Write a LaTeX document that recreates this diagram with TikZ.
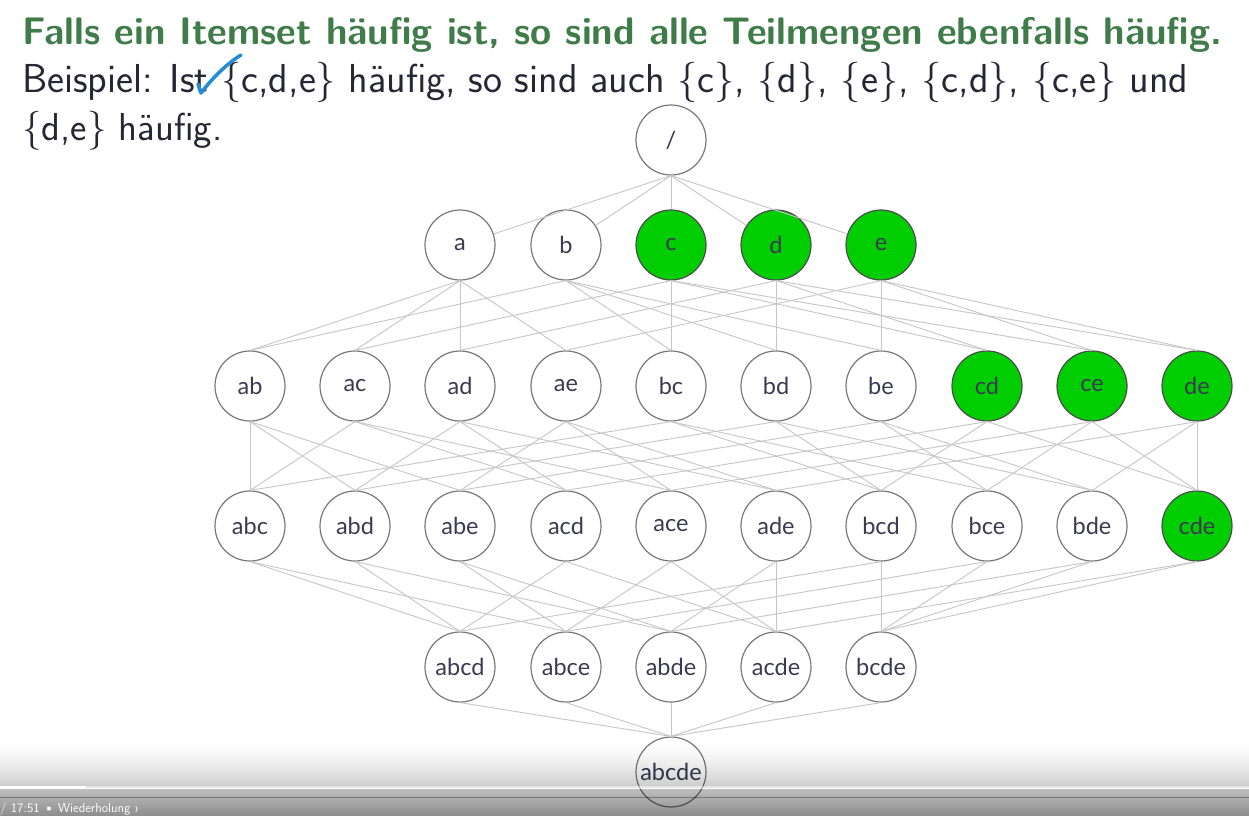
\documentclass[tikz,border=0pt]{standalone}
\usepackage{fontspec}
\newfontfamily\labelfont{Lato}

\definecolor{titlegreen}{RGB}{64,124,74}
\definecolor{bodytext}{RGB}{38,38,52}
\definecolor{setgreen}{RGB}{0,206,0}
\definecolor{labeltext}{RGB}{58,58,82}
\definecolor{circleedge}{RGB}{120,120,120}
\definecolor{edgegray}{RGB}{198,198,198}
\definecolor{penblue}{RGB}{35,140,210}

\tikzset{
  itemset/.style={circle, draw=circleedge, line width=1.2pt, fill=white,
    minimum size=70pt, inner sep=0pt, text=labeltext,
    font=\labelfont\fontsize{23.5}{23.5}\selectfont},
  frequent/.style={itemset, fill=setgreen, draw=black!70},
  lattice/.style={draw=edgegray, line width=0.9pt},
  headline/.style={anchor=base west, inner sep=0pt, text=titlegreen,
    font=\sffamily\bfseries\fontsize{38}{46}\selectfont},
  bodyline/.style={anchor=base west, inner sep=0pt, text=bodytext,
    font=\sffamily\fontsize{38}{46}\selectfont},
}

\begin{document}
\begin{tikzpicture}[x=1pt, y=-1pt]
\useasboundingbox (0,0) rectangle (1249,816);
\fill[white] (0,0) rectangle (1249,816);

% statement and example
\node[headline] (title) at (22,45)
  {\resizebox{1200pt}{!}{Falls ein Itemset häufig ist, so sind alle Teilmengen ebenfalls häufig.}};
\node[bodyline] (ex1) at (22,92)
  {\resizebox{1166pt}{!}{Beispiel: Ist \{c,d,e\} häufig, so sind auch \{c\}, \{d\}, \{e\}, \{c,d\}, \{c,e\} und}};
\node[bodyline] (ex2) at (22,140)
  {\resizebox{200pt}{!}{\{d,e\} häufig.}};

% itemset lattice: one row per itemset size
\node[itemset] (root) at (671,140) {/};

\foreach \n/\x in {a/460, b/566}
  \node[itemset] (\n) at (\x,245) {\n};
\foreach \n/\x in {c/671, d/776, e/881}
  \node[frequent] (\n) at (\x,245) {\n};

\foreach \n/\x in {ab/250, ac/355, ad/460, ae/566, bc/671, bd/776, be/881}
  \node[itemset] (\n) at (\x,386) {\n};
\foreach \n/\x in {cd/987, ce/1092, de/1197}
  \node[frequent] (\n) at (\x,386) {\n};

\foreach \n/\x in {abc/250, abd/355, abe/460, acd/566, ace/671, ade/776, bcd/881, bce/987, bde/1092}
  \node[itemset] (\n) at (\x,526) {\n};
\node[frequent] (cde) at (1197,526) {cde};

\foreach \n/\x in {abcd/460, abce/566, abde/671, acde/776, bcde/881}
  \node[itemset] (\n) at (\x,667) {\n};

\node[itemset] (abcde) at (671,772) {abcde};

% subset relations between neighbouring rows
\foreach \s in {a,b,c,d,e}
  \draw[lattice] (root.south) -- (\s);

\foreach \s/\sups in {a/{ab,ac,ad,ae}, b/{ab,bc,bd,be}, c/{ac,bc,cd,ce},
                      d/{ad,bd,cd,de}, e/{ae,be,ce,de}}
  \foreach \t in \sups
    \draw[lattice] (\s.south) -- (\t.north);

\foreach \s/\sups in {ab/{abc,abd,abe}, ac/{abc,acd,ace}, ad/{abd,acd,ade},
                      ae/{abe,ace,ade}, bc/{abc,bcd,bce}, bd/{abd,bcd,bde},
                      be/{abe,bce,bde}, cd/{acd,bcd,cde}, ce/{ace,bce,cde},
                      de/{ade,bde,cde}}
  \foreach \t in \sups
    \draw[lattice] (\s.south) -- (\t.north);

\foreach \s/\sups in {abc/{abcd,abce}, abd/{abcd,abde}, abe/{abce,abde},
                      acd/{abcd,acde}, ace/{abce,acde}, ade/{abde,acde},
                      bcd/{abcd,bcde}, bce/{abce,bcde}, bde/{abde,bcde},
                      cde/{acde,bcde}}
  \foreach \t in \sups
    \draw[lattice] (\s.south) -- (\t.north);

\foreach \s in {abcd,abce,abde,acde,bcde}
  \draw[lattice] (\s.south) -- (abcde.north);

% pen tick next to "Ist"
\draw[penblue, line width=3.5pt, line cap=round, line join=round]
  (198,84) .. controls (199,89) .. (201,93)
  .. controls (214,76) and (228,63) .. (241,55);

% player bar along the bottom edge: darkening gradient in thin strips
\foreach \i in {0,...,37} {
  \pgfmathsetmacro\stripop{0.2*(\i/37)^1.5}
  \pgfmathsetmacro\stripy{740+1.25*\i}
  \fill[black, fill opacity=\stripop] (0,\stripy) rectangle (1249,\stripy+1.3);
}
\foreach \i in {0,...,12} {
  \pgfmathsetmacro\stripop{0.26+0.015*\i}
  \pgfmathsetmacro\stripy{789+2.1*\i}
  \fill[black, fill opacity=\stripop] (0,\stripy) rectangle (1249,\stripy+2.2);
}
\fill[white, fill opacity=0.5] (0,786) rectangle (1249,789);
\fill[white, fill opacity=0.9] (0,786) rectangle (86,789);
\node[anchor=base west, inner sep=0pt, text=white, font=\sffamily\fontsize{13}{13}\selectfont]
  (player) at (0,812) {/ 17:51 \textbullet\ Wiederholung ›};
\end{tikzpicture}
\end{document}
